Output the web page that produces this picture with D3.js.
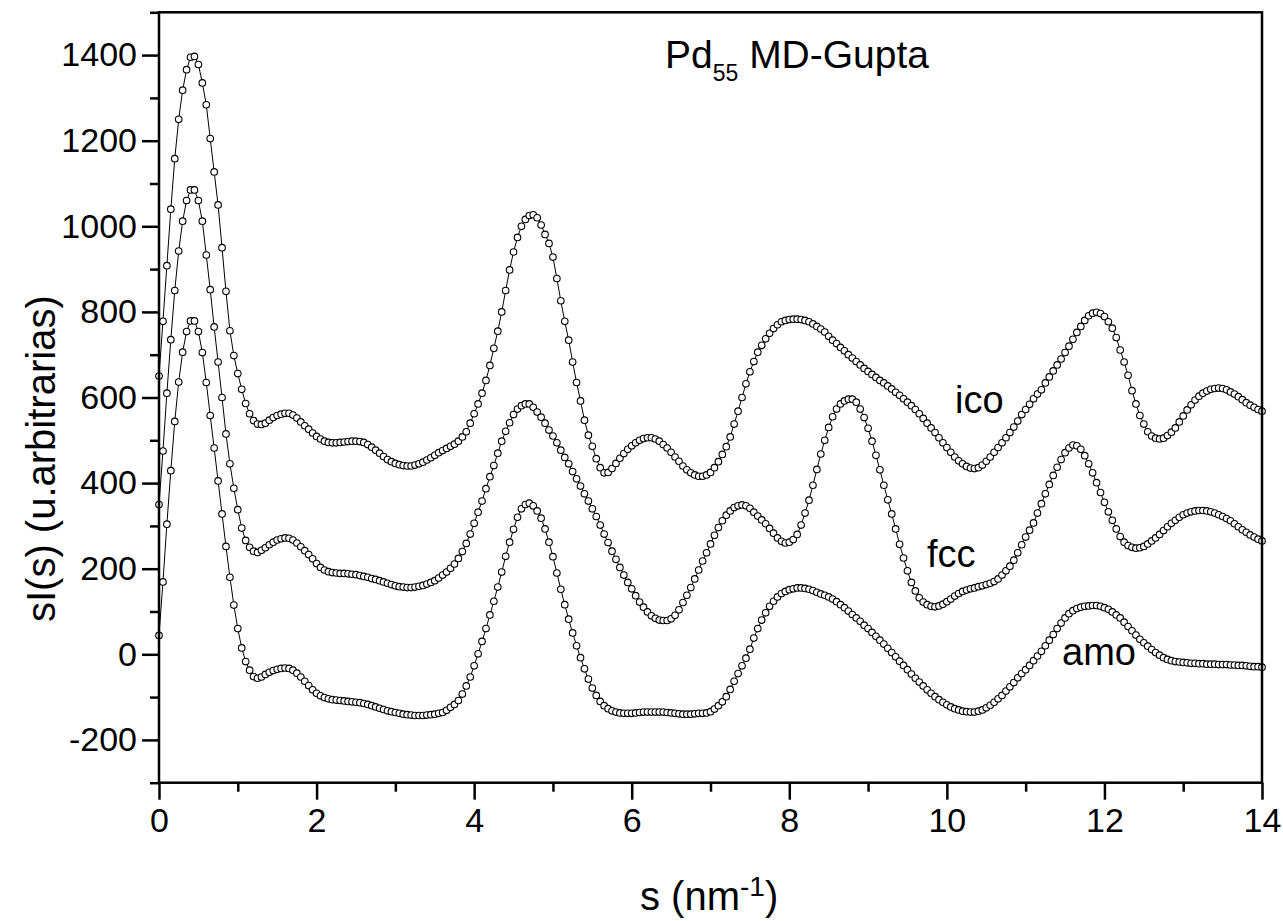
<!DOCTYPE html>
<html><head><meta charset="utf-8">
<script src="https://cdn.jsdelivr.net/npm/d3@7"></script>
<style>
html,body{margin:0;padding:0;background:#fff;}
svg{display:block;}
text{font-family:"Liberation Sans",Arial,Helvetica,sans-serif;fill:#000;}
</style>
</head><body>
<svg id="chart" width="1283" height="921"></svg>
<script>
// s grid: 0.00 .. 14.00 in steps of 0.05 (nm^-1)
const S_STEP = 0.05;

const ico = [
650,778,908,1040,1158,1250,1318,1366,1395,1397,1378,1335,1284,1205,1127,1050,950,848,756,698,
656,619,586,562,546,538,537,540,547,553,558,561,563,563,559,552,543,534,526,517,
509,503,498,495,494,494,495,496,497,498,498,497,495,490,484,477,470,462,455,450,
446,443,441,440,440,442,445,449,454,459,465,471,476,481,486,491,498,508,520,540,
562,585,610,640,675,715,755,800,850,898,940,974,1000,1016,1025,1027,1020,1003,981,960,
928,878,826,778,734,683,635,592,547,512,486,457,436,424,425,434,446,458,469,479,
487,494,500,504,506,506,503,498,490,482,472,461,451,440,431,424,419,416,416,419,
425,436,450,467,485,508,538,568,600,632,660,684,706,722,737,750,761,770,777,780,
782,783,783,782,780,777,772,766,760,753,743,734,726,717,709,700,692,684,676,668,
661,654,647,640,634,627,620,612,605,597,589,581,572,562,551,540,529,518,506,494,
483,472,461,452,445,439,435,434,436,442,451,461,472,483,494,506,518,531,545,560,
572,584,597,608,618,634,648,662,676,690,705,720,736,752,766,780,791,797,799,796,
789,777,762,740,711,683,652,616,585,558,538,520,510,505,503,505,511,519,529,543,
557,571,583,594,603,610,615,619,621,622,621,618,613,608,602,595,588,582,577,572,
568];

const fcc = [
350,475,610,735,850,942,1012,1060,1085,1085,1060,1012,933,852,765,683,600,515,445,388,
338,295,266,250,241,238,243,249,256,262,267,270,272,271,267,260,251,242,233,223,
212,203,197,193,191,190,189,189,188,187,186,184,182,180,177,175,172,169,166,163,
160,158,157,156,156,157,159,161,164,168,172,178,185,192,201,211,224,240,259,281,
306,332,358,387,415,441,470,498,521,541,560,573,581,585,585,577,566,554,540,524,
510,494,477,460,445,427,410,393,375,358,340,322,302,281,261,241,222,203,185,168,
153,137,122,110,99,90,84,80,79,79,83,91,104,121,138,156,176,197,218,237,
258,278,296,312,325,335,343,347,349,347,341,332,323,314,305,294,283,272,264,260,
262,268,280,302,330,360,395,432,468,500,530,555,573,585,592,596,596,589,573,553,
528,498,465,431,395,361,328,293,257,225,195,168,148,132,122,116,112,111,113,117,
123,129,136,142,147,150,153,155,158,160,163,166,170,176,185,195,206,220,237,256,
274,290,307,330,352,375,397,418,437,455,471,482,489,487,479,464,445,424,401,378,
355,333,313,293,275,262,254,250,248,249,252,258,265,272,280,289,298,306,313,320,
326,330,333,335,336,336,335,333,330,326,322,317,312,305,298,291,285,279,274,269,
265];

const amo = [
44,169,304,429,544,636,706,754,779,779,754,705,635,558,482,405,328,252,180,115,
60,15,-17,-37,-52,-56,-53,-47,-42,-38,-35,-33,-32,-33,-37,-44,-53,-63,-73,-83,
-91,-97,-101,-104,-106,-107,-108,-109,-110,-111,-112,-113,-115,-117,-120,-123,-126,-129,-132,-134,
-136,-138,-140,-141,-142,-143,-143,-143,-142,-141,-140,-138,-136,-131,-124,-117,-108,-93,-74,-53,
-27,1,30,60,92,124,157,192,229,262,292,320,340,350,353,347,335,318,293,262,
228,190,152,116,82,50,20,-8,-34,-58,-79,-96,-110,-120,-127,-132,-135,-137,-138,-138,
-138,-137,-136,-135,-135,-135,-135,-135,-135,-136,-137,-138,-139,-140,-140,-140,-139,-138,-138,-137,
-134,-128,-120,-111,-99,-82,-63,-45,-27,-9,12,38,60,80,97,112,124,134,142,147,
151,153,155,155,154,152,149,145,141,138,134,129,123,116,109,101,93,85,77,68,
60,51,42,33,24,14,4,-6,-16,-26,-36,-46,-56,-65,-74,-83,-91,-99,-106,-112,
-118,-123,-127,-130,-133,-134,-135,-135,-133,-130,-125,-119,-112,-104,-96,-86,-76,-66,-55,-45,
-36,-26,-15,-4,7,20,33,46,60,73,85,95,102,107,110,112,113,114,114,112,
109,105,99,92,85,75,65,55,45,35,27,19,11,4,-2,-8,-12,-15,-17,-18,
-19,-20,-21,-21,-22,-22,-23,-23,-23,-24,-24,-24,-25,-25,-26,-26,-27,-28,-29,-29,
-30];

const seriesNames = ["ico", "fcc", "amo"];
const xMajorTicks = [0, 2, 4, 6, 8, 10, 12, 14];
const xMinorTicks = [1, 3, 5, 7, 9, 11, 13];
const yMajorTicks = [-200, 0, 200, 400, 600, 800, 1000, 1200, 1400];
const yMinorTicks = [-300, -100, 100, 300, 500, 700, 900, 1100, 1300, 1500];
const titleMain = "Pd", titleSub = "55", titleRest = " MD-Gupta";
const yTitle = "sI(s)  (u.arbitrarias)";

const svg = d3.select("#chart");
const X0 = 159, X1 = 1262, Y0 = 782.7, Y1 = 12.3;
const x = d3.scaleLinear().domain([0, 14]).range([X0, X1]);
const y = d3.scaleLinear().domain([-300, 1500]).range([Y0, Y1]);

const sGrid = d3.range(ico.length).map(i => i * S_STEP);
const series = [
  {name: "amo", vals: amo},
  {name: "fcc", vals: fcc},
  {name: "ico", vals: ico}
];

// data
const line = d3.line().x(d => x(d[0])).y(d => y(d[1]));
series.forEach(sr => {
  const pts = sGrid.map((s, i) => [s, sr.vals[i]]);
  const g = svg.append("g").attr("class", "series-" + sr.name);
  g.append("path").datum(pts).attr("d", line)
    .attr("fill", "none").attr("stroke", "#000").attr("stroke-width", 1);
  g.selectAll("circle").data(pts).join("circle")
    .attr("cx", d => x(d[0])).attr("cy", d => y(d[1])).attr("r", 3.3)
    .attr("fill", "#fff").attr("stroke", "#000").attr("stroke-width", 1.1);
});

// axes
const fs = 34;
const fmt = d => String(d); // plain hyphen-minus
function styleAxis(g) {
  g.select(".domain").remove();
  g.selectAll(".tick line").attr("stroke", "#000").attr("stroke-width", 2.5);
  g.selectAll(".tick text").attr("font-size", fs).attr("font-family", '"Liberation Sans",Arial,sans-serif').attr("fill", "#000");
}
svg.append("g").attr("transform", `translate(0,${Y0})`)
  .call(d3.axisBottom(x).tickValues(xMinorTicks).tickSize(9).tickFormat(""))
  .call(styleAxis);
svg.append("g").attr("transform", `translate(0,${Y0})`)
  .call(d3.axisBottom(x).tickValues(xMajorTicks).tickSize(17).tickPadding(8).tickFormat(fmt))
  .call(styleAxis);
svg.append("g").attr("transform", `translate(${X0},0)`)
  .call(d3.axisLeft(y).tickValues(yMinorTicks).tickSize(9).tickFormat(""))
  .call(styleAxis);
svg.append("g").attr("transform", `translate(${X0},0)`)
  .call(d3.axisLeft(y).tickValues(yMajorTicks).tickSize(17).tickPadding(5).tickFormat(fmt))
  .call(styleAxis);

// frame
svg.append("rect").attr("x", X0).attr("y", Y1).attr("width", X1 - X0).attr("height", Y0 - Y1)
  .attr("fill", "none").attr("stroke", "#000").attr("stroke-width", 2.5);

// title
const t = svg.append("text").attr("x", 665).attr("y", 68).attr("font-size", 39);
t.append("tspan").text(titleMain);
t.append("tspan").attr("font-size", 23).attr("dy", 13).text(titleSub);
t.append("tspan").attr("dy", -13).text(titleRest);

// series labels
const labelPos = {ico: [955, 413], fcc: [927, 567], amo: [1062, 665]};
seriesNames.forEach(n => {
  svg.append("text").attr("x", labelPos[n][0]).attr("y", labelPos[n][1])
    .attr("font-size", 38).text(n);
});

// axis titles
const xt = svg.append("text").attr("x", 640).attr("y", 910).attr("font-size", 40);
xt.append("tspan").text("s (nm");
xt.append("tspan").attr("font-size", 28).attr("dy", -14).text("-1");
xt.append("tspan").attr("dy", 14).text(")");

svg.append("text").attr("transform", "translate(55,622) rotate(-90)")
  .attr("font-size", 40).attr("text-anchor", "start").text(yTitle);
</script>
</body></html>
